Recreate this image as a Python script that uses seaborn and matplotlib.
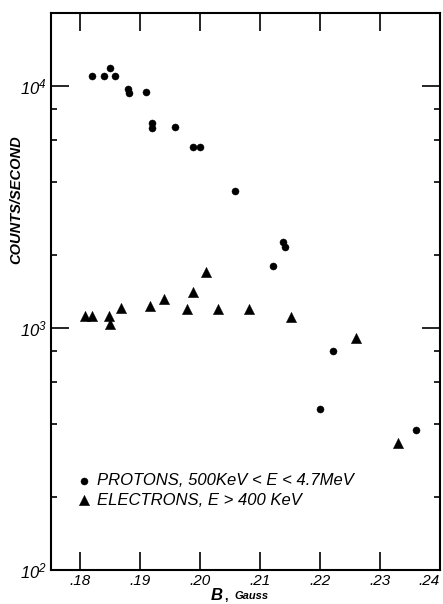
import numpy as np
import pandas as pd
import matplotlib
matplotlib.use("Agg")
import matplotlib.pyplot as plt
import seaborn as sns
from matplotlib.ticker import FixedLocator, NullFormatter

# ---- data ----
proton_b = [0.1821, 0.1840, 0.1851, 0.1859, 0.1880, 0.1882, 0.1910, 0.1921, 0.1920,
            0.1959, 0.1989, 0.2000, 0.2059, 0.2139, 0.2141, 0.2122, 0.2221, 0.2200, 0.2360]
proton_counts = [11000, 11000, 11900, 11000, 9730, 9300, 9450, 7040, 6690,
                 6770, 5600, 5600, 3690, 2265, 2150, 1810, 801, 461, 377]

electron_b = [0.1808, 0.1820, 0.1849, 0.1850, 0.1869, 0.1917, 0.1941, 0.1989, 0.2010,
              0.1979, 0.2030, 0.2082, 0.2151, 0.2260, 0.2330]
electron_counts = [1115, 1120, 1120, 1040, 1210, 1227, 1320, 1410, 1705,
                   1200, 1200, 1200, 1107, 911, 335]

x_ticks = [0.18, 0.19, 0.20, 0.21, 0.22, 0.23, 0.24]
x_ticklabels = [".18", ".19", ".20", ".21", ".22", ".23", ".24"]
y_major = [1e2, 1e3, 1e4]
y_ticklabels = [r"$10^{2}$", r"$10^{3}$", r"$10^{4}$"]
y_minor = [200, 400, 600, 800, 2000, 4000, 6000, 8000]

proton_label = "PROTONS, 500KeV < E < 4.7MeV"
electron_label = "ELECTRONS, E > 400 KeV"

sns.set_style("ticks")
plt.rcParams['font.family'] = ['Liberation Sans', 'DejaVu Sans']
plt.rcParams['mathtext.fontset'] = 'custom'
plt.rcParams['mathtext.it'] = 'Liberation Sans:italic'
plt.rcParams['mathtext.rm'] = 'Liberation Sans:italic'
plt.rcParams['mathtext.default'] = 'it'
plt.rcParams['text.color'] = 'black'
plt.rcParams['axes.labelcolor'] = 'black'
plt.rcParams['legend.labelcolor'] = 'black'

df_p = pd.DataFrame({"B": proton_b, "counts": proton_counts})
df_e = pd.DataFrame({"B": electron_b, "counts": electron_counts})

fig = plt.figure(figsize=(4.43, 6.04), dpi=100)
ax = fig.add_axes([0.1151, 0.0563, 0.8781, 0.9222])

sns.scatterplot(data=df_p, x="B", y="counts", ax=ax, color="black", marker="o",
                s=26, edgecolor="black", linewidth=0.3, label=proton_label)
sns.scatterplot(data=df_e, x="B", y="counts", ax=ax, color="black", marker="^",
                s=55, edgecolor="black", linewidth=0.3, label=electron_label)

ax.set_yscale("log")
ax.set_xlim(0.1752, 0.2400)
ax.set_ylim(100, 20000)

ax.xaxis.set_major_locator(FixedLocator(x_ticks))
ax.set_xticklabels(x_ticklabels, fontstyle="italic", fontsize=11)
xt = ax.get_xticklabels()
xt[-1].set_horizontalalignment("right")
ax.yaxis.set_major_locator(FixedLocator(y_major))
ax.set_yticklabels(y_ticklabels, fontsize=12)
ax.yaxis.set_minor_locator(FixedLocator(y_minor))
ax.yaxis.set_minor_formatter(NullFormatter())
ax.xaxis.set_minor_locator(FixedLocator([]))

ax.tick_params(axis="both", which="major", direction="in", length=13, width=1.2,
               top=True, right=True, pad=3, colors="black")
ax.tick_params(axis="y", which="minor", direction="in", length=4, width=1.2,
               left=True, right=True, colors="black")
ax.tick_params(axis="x", which="major", pad=3)

for sp in ax.spines.values():
    sp.set_linewidth(1.5)
    sp.set_color("black")
    sp.set_visible(True)

ax.set_xlabel("")
ax.set_ylabel("COUNTS/SECOND", fontsize=10.5, fontstyle="italic", fontweight="bold")
ax.yaxis.set_label_coords(-0.07, 0.665)

ax.text(0.425, -0.032, "B", transform=ax.transAxes, fontsize=12, fontweight="bold",
        fontstyle="italic", ha="center", va="top")
ax.text(0.449, -0.037, ",", transform=ax.transAxes, fontsize=9, fontweight="bold",
        ha="center", va="top")
ax.text(0.472, -0.037, "Gauss", transform=ax.transAxes, fontsize=8, fontweight="bold",
        fontstyle="italic", ha="left", va="top")

leg = ax.legend(loc="lower left", bbox_to_anchor=(0.055, 0.1), frameon=False,
                prop={"style": "italic", "size": 12}, handletextpad=0.5,
                labelspacing=0.25, borderaxespad=0, handlelength=0.6)

fig.savefig("out.png", dpi=100)
